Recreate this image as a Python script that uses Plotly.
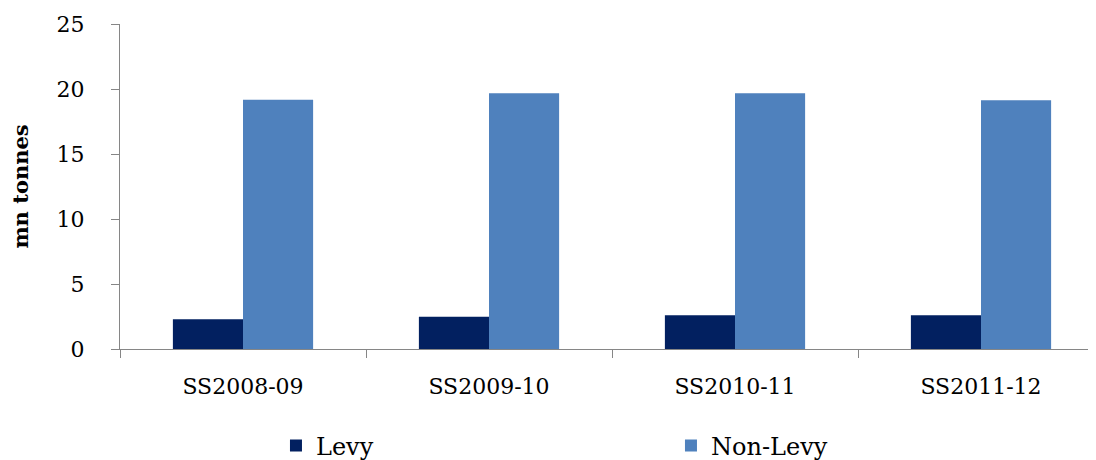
import plotly.graph_objects as go

categories = ["SS2008-09", "SS2009-10", "SS2010-11", "SS2011-12"]
levy = [2.28, 2.49, 2.59, 2.59]
non_levy = [19.18, 19.67, 19.67, 19.13]
y_ticks = [0, 5, 10, 15, 20, 25]

FONT = "DejaVu Serif"
AXIS_COLOR = "#868686"

fig = go.Figure()
fig.add_trace(go.Bar(name="Levy", x=categories, y=levy, marker=dict(color="#022060", line=dict(width=0))))
fig.add_trace(go.Bar(name="Non-Levy", x=categories, y=non_levy, marker=dict(color="#4F81BD", line=dict(width=0))))

fig.update_layout(
    width=1096, height=460,
    margin=dict(l=112, r=0, t=16, b=119),
    paper_bgcolor="white", plot_bgcolor="white",
    barmode="group", bargap=0.43, bargroupgap=0,
    font=dict(family=FONT, size=22, color="black"),
    showlegend=True,
    legend=dict(orientation="h", xref="container", yref="container",
                x=0.2445, y=0.048, xanchor="left", yanchor="middle",
                entrywidth=350, font=dict(size=24, family=FONT), traceorder="normal"),
)
fig.update_xaxes(
    range=[-0.5, 3.5], showline=True, linecolor=AXIS_COLOR, linewidth=1,
    ticks="outside", tickson="boundaries", ticklen=8, tickcolor=AXIS_COLOR,
    showgrid=False, ticklabelstandoff=18, tickfont=dict(size=22, family=FONT),
)
fig.update_yaxes(
    range=[0, 25], tickvals=y_ticks, showline=True, linecolor=AXIS_COLOR, linewidth=1,
    ticks="outside", ticklen=8, tickcolor=AXIS_COLOR, showgrid=False, zeroline=False,
    ticklabelstandoff=22, tickfont=dict(size=22, family=FONT),
    title=dict(text="<b>mn tonnes</b>", font=dict(size=21, family=FONT), standoff=24),
)
fig.write_html("out.html")
